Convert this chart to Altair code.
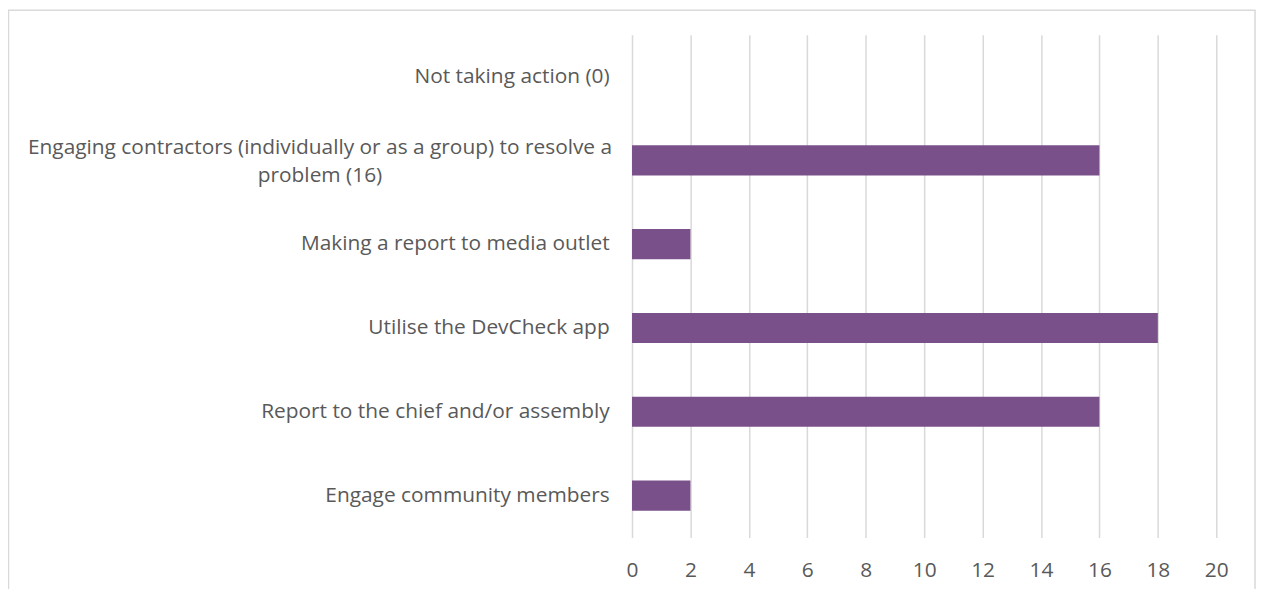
import altair as alt
import pandas as pd

categories = [
    "Not taking action (0)",
    "Engaging contractors (individually or as a group) to resolve a problem (16)",
    "Making a report to media outlet",
    "Utilise the DevCheck app",
    "Report to the chief and/or assembly",
    "Engage community members",
]
values = [0, 16, 2, 18, 16, 2]
two_line_label = ["Engaging contractors (individually or as a group) to resolve a", "problem (16)"]

FONT = "Open Sans"
FS = 21
TXT = "#595959"
GRID = "#d9d9d9"
BAR = "#7A508A"

df = pd.DataFrame({"category": categories, "value": values})
long_cat = categories[1]

y_enc = alt.Y(
    "category:N",
    sort=categories,
    scale=alt.Scale(paddingInner=0.64, paddingOuter=0.32),
    axis=alt.Axis(
        title=None,
        domain=False,
        ticks=False,
        grid=False,
        labelPadding=23,
        labelFont=FONT,
        labelFontSize=FS,
        labelColor=TXT,
        labelLimit=700,
        labelExpr=f"datum.value == '{long_cat}' ? '' : datum.value",
    ),
)

bars = alt.Chart(df).mark_bar(color=BAR).encode(
    x=alt.X(
        "value:Q",
        scale=alt.Scale(domain=[0, 20], nice=False),
        axis=alt.Axis(
            title=None,
            values=list(range(0, 21, 2)),
            domain=False,
            ticks=False,
            grid=True,
            gridColor=GRID,
            gridWidth=1.5,
            labelFlush=False,
            labelPadding=22,
            labelFont=FONT,
            labelFontSize=FS,
            labelColor=TXT,
        ),
    ),
    y=y_enc,
)

lbl_df = pd.DataFrame({"category": [long_cat], "text": [two_line_label]})
long_label = alt.Chart(lbl_df).mark_text(
    align="center", baseline="middle", font=FONT, fontSize=FS, color=TXT,
    lineHeight=28, dy=-12
).encode(
    y=alt.Y("category:N", sort=categories),
    x=alt.value(-314),
    text="text",
)

frame = alt.Chart(pd.DataFrame({"a": [0]})).mark_rect(
    fill=None, stroke=GRID, strokeWidth=1.5
).encode(
    x=alt.value(-627.5), x2=alt.value(627), y=alt.value(-24.5), y2=alt.value(570)
)

chart = alt.layer(frame, bars, long_label).properties(
    width=588,
    height=506,
    background="white",
    autosize=alt.AutoSizeParams(type="none"),
    padding={"left": 628, "top": 25, "right": 44, "bottom": 50},
).configure_view(strokeWidth=0, stroke=None)

chart.save("out.html", embed_options={"renderer": "svg", "actions": False})
